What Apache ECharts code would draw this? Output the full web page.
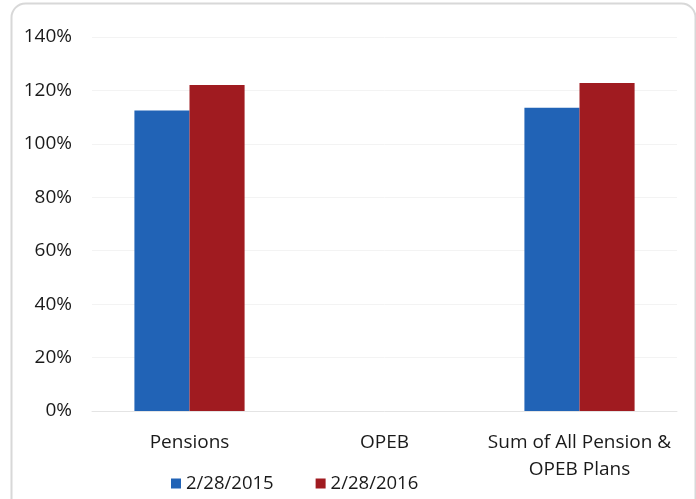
<!DOCTYPE html>
<html><head><meta charset="utf-8">
<script src="https://cdn.jsdelivr.net/npm/echarts@6/dist/echarts.min.js"></script>
<style>html,body{margin:0;padding:0;background:#fff}#c{width:696px;height:499px}</style>
</head><body><div id="c"></div>
<script>
const categories = ['Pensions', 'OPEB', 'Sum of All Pension &\nOPEB Plans'];
const series2015 = [112.5, null, 113.5];
const series2016 = [122, null, 122.8];
const seriesNames = ['2/28/2015', '2/28/2016'];
const yTicks = [0, 20, 40, 60, 80, 100, 120, 140];

const chart = echarts.init(document.getElementById('c'));
chart.setOption({
  animation: false,
  textStyle: { fontFamily: 'Open Sans' },
  grid: { left: 92, right: 19, top: 37, bottom: 88, containLabel: false },
  legend: {
    bottom: 1, left: 166,
    itemWidth: 10, itemHeight: 10, itemGap: 42,
    icon: 'rect',
    textStyle: { fontSize: 18.5, color: '#1a1a1a', fontFamily: 'Open Sans' },
    data: seriesNames
  },
  xAxis: {
    type: 'category', data: categories,
    axisLine: { lineStyle: { color: '#e4e4e4' } },
    axisTick: { show: false },
    axisLabel: { fontSize: 19, color: '#1a1a1a', margin: 18, lineHeight: 27, interval: 0 }
  },
  yAxis: {
    type: 'value', min: yTicks[0], max: yTicks[yTicks.length - 1], interval: 20,
    axisLabel: { formatter: '{value}%', fontSize: 19, color: '#1a1a1a', margin: 20 },
    splitLine: { lineStyle: { color: '#f3f3f3' } },
    axisLine: { show: false }, axisTick: { show: false }
  },
  series: [
    { name: seriesNames[0], type: 'bar', data: series2015, itemStyle: { color: '#2163b6' }, barGap: '0%', barCategoryGap: '43.5%' },
    { name: seriesNames[1], type: 'bar', data: series2016, itemStyle: { color: '#a01b20' } }
  ],
  graphic: [{
    type: 'rect', left: 9, top: 1, silent: true, z: -1,
    shape: { width: 684, height: 520, r: 14 },
    style: { fill: 'none', stroke: '#d8d8d8', lineWidth: 2 }
  }]
});
</script></body></html>
